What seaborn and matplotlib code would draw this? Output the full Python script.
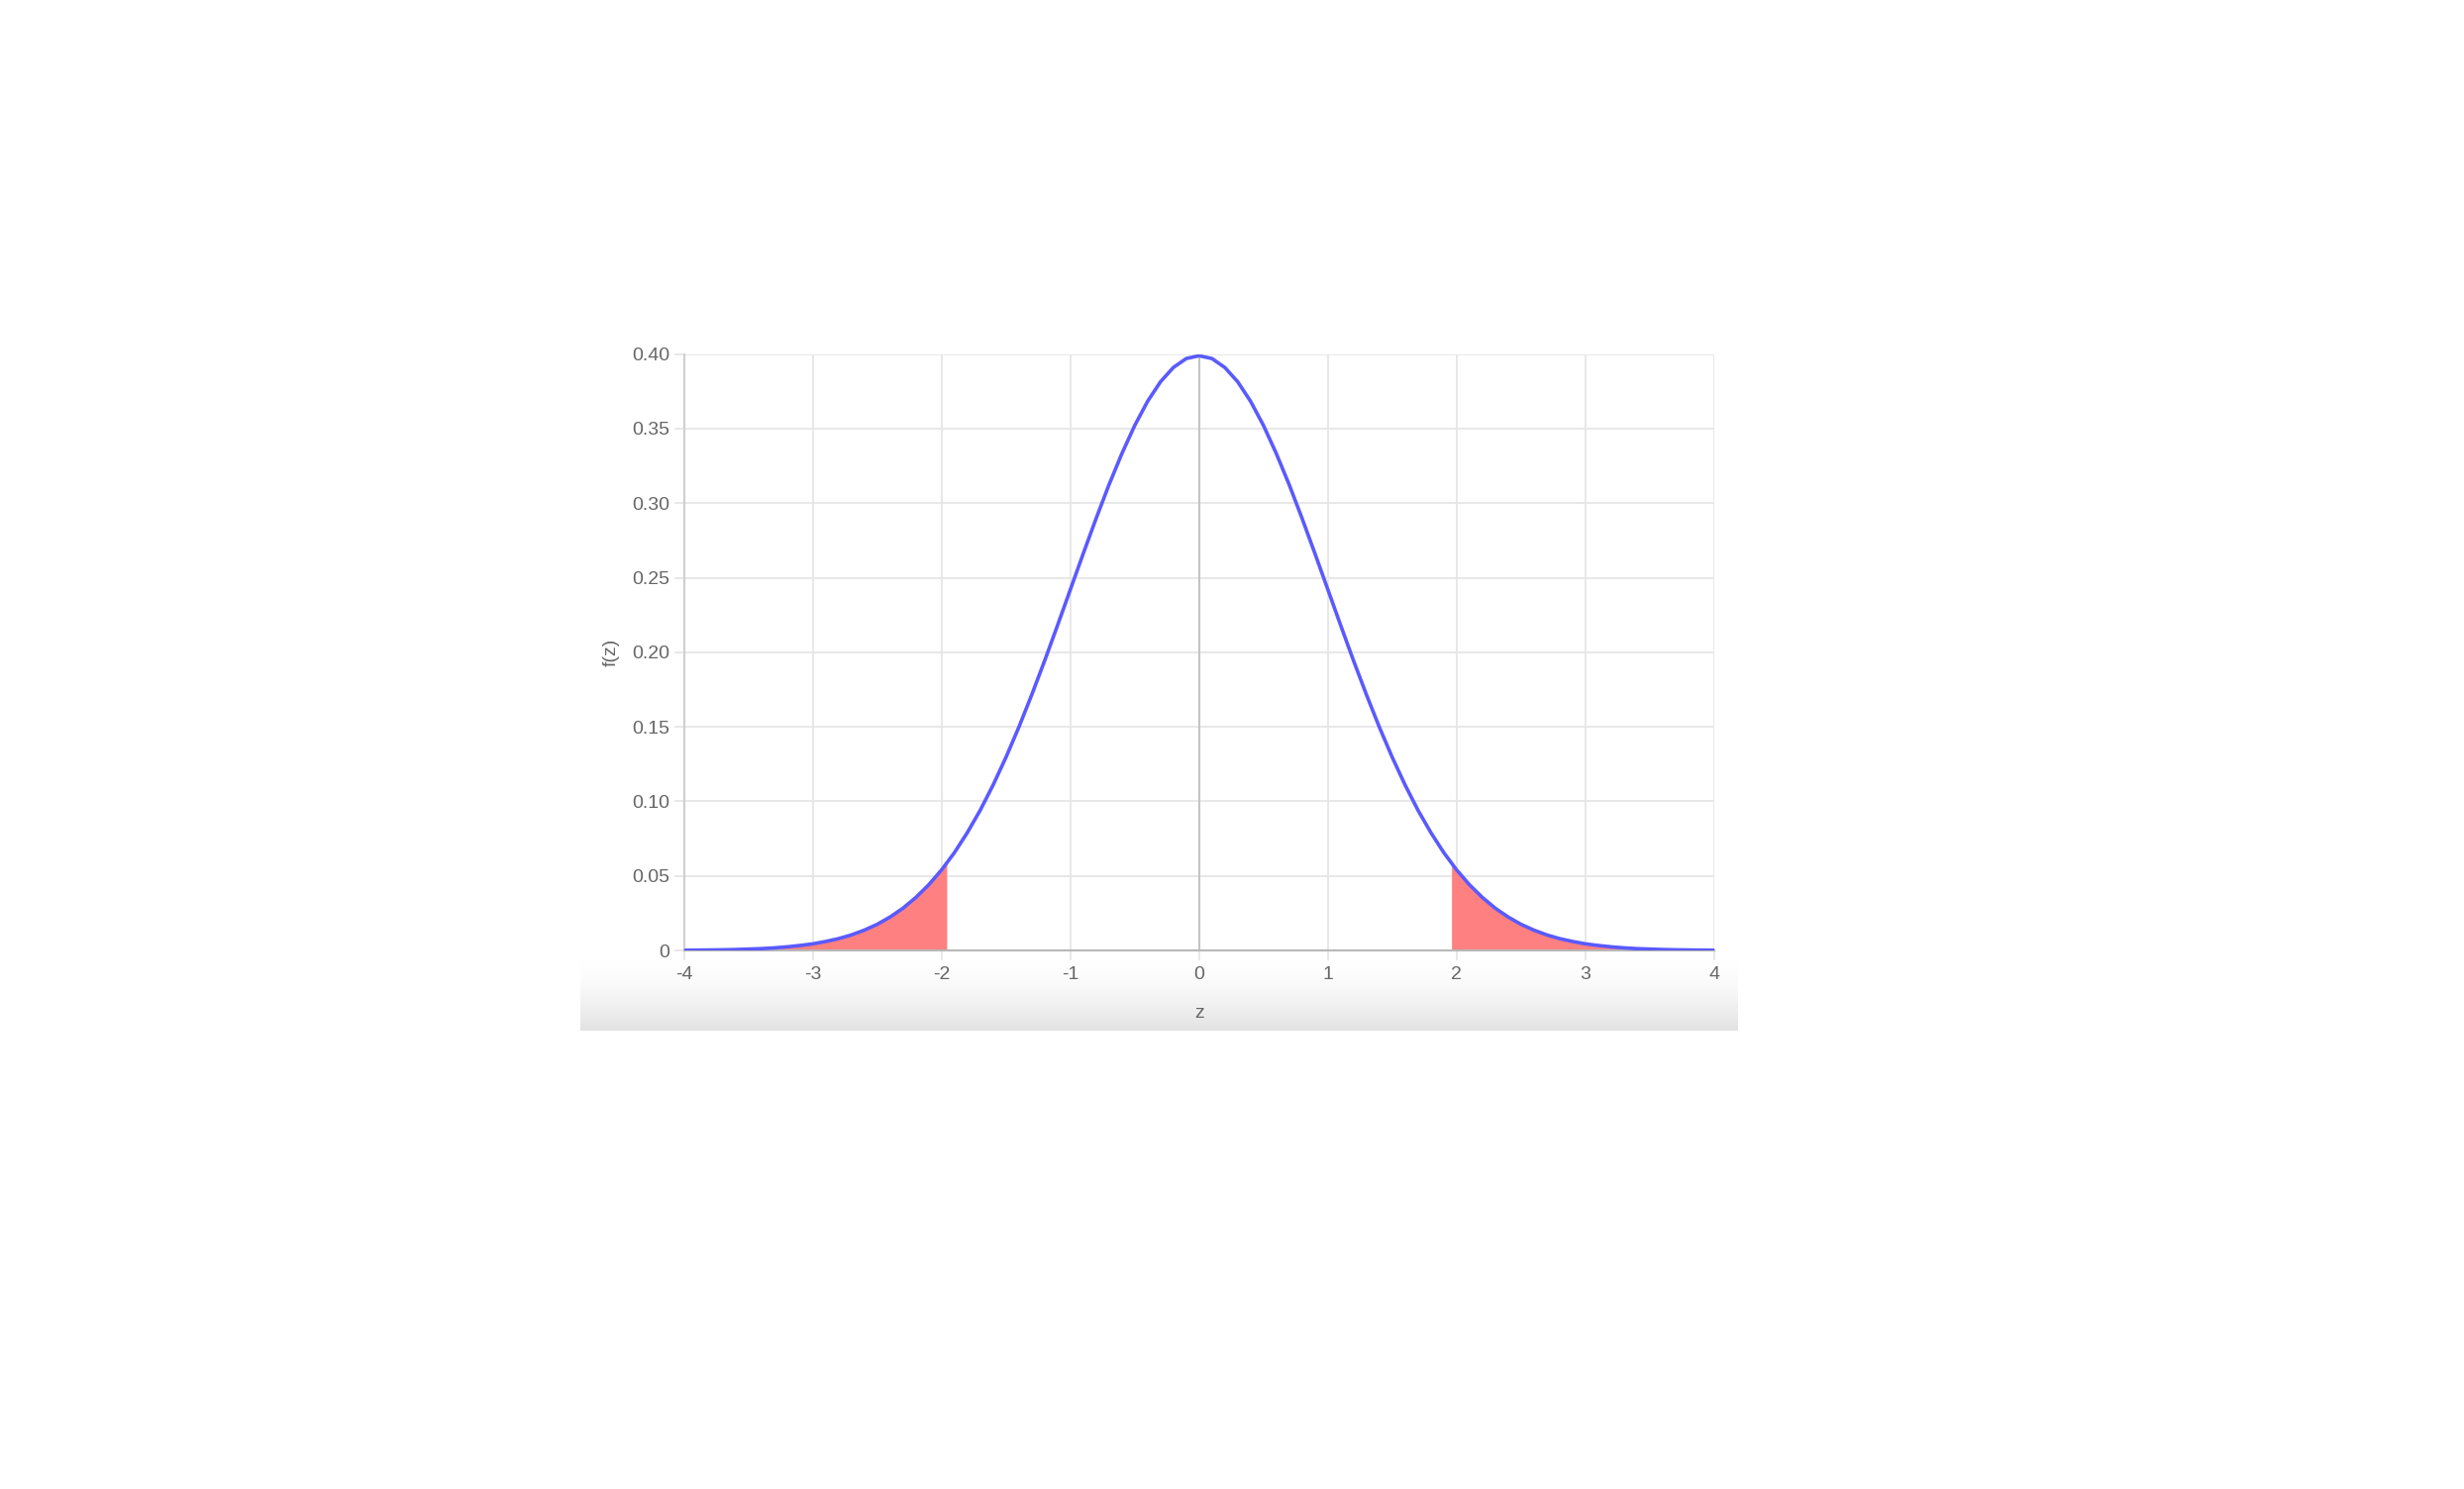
import numpy as np
import pandas as pd
import matplotlib
matplotlib.use("Agg")
import matplotlib.pyplot as plt
import seaborn as sns

# =============================
# Data read off the chart (standard normal curve, sampled every 0.1)
# =============================
z_values = np.round(np.linspace(-4, 4, 81), 1)
density = [
    0.0001, 0.0002, 0.0003, 0.0004, 0.0006, 0.0009, 0.0012, 0.0017, 0.0024, 0.0033,
    0.0044, 0.0060, 0.0079, 0.0104, 0.0136, 0.0175, 0.0224, 0.0283, 0.0355, 0.0440,
    0.0540, 0.0656, 0.0790, 0.0940, 0.1109, 0.1295, 0.1497, 0.1714, 0.1942, 0.2179,
    0.2420, 0.2661, 0.2897, 0.3123, 0.3332, 0.3521, 0.3683, 0.3814, 0.3910, 0.3970,
    0.3989,
    0.3970, 0.3910, 0.3814, 0.3683, 0.3521, 0.3332, 0.3123, 0.2897, 0.2661, 0.2420,
    0.2179, 0.1942, 0.1714, 0.1497, 0.1295, 0.1109, 0.0940, 0.0790, 0.0656, 0.0540,
    0.0440, 0.0355, 0.0283, 0.0224, 0.0175, 0.0136, 0.0104, 0.0079, 0.0060, 0.0044,
    0.0033, 0.0024, 0.0017, 0.0012, 0.0009, 0.0006, 0.0004, 0.0003, 0.0002, 0.0001,
]
critical_z = 1.96
critical_density = 0.0584

x_ticks = [-4, -3, -2, -1, 0, 1, 2, 3, 4]
y_ticks = [0, 0.05, 0.10, 0.15, 0.20, 0.25, 0.30, 0.35, 0.40]
y_tick_labels = ["0", "0.05", "0.10", "0.15", "0.20", "0.25", "0.30", "0.35", "0.40"]

df = pd.DataFrame({"z": z_values, "f": density})

# tails: curve points beyond the cut plus the cut point itself
left = df[df["z"] <= -critical_z]
left = pd.concat([left, pd.DataFrame({"z": [-critical_z], "f": [critical_density]})])
right = df[df["z"] >= critical_z]
right = pd.concat([pd.DataFrame({"z": [critical_z], "f": [critical_density]}), right])

# =============================
# Plot
# =============================
sns.set_theme(style="white")
plt.rcParams["font.family"] = ["Liberation Sans", "DejaVu Sans"]

fig = plt.figure(figsize=(24.88, 15.04), dpi=100)
fig.patch.set_facecolor("white")

# grey gradient band under the chart
bg = fig.add_axes([586 / 2488, 1 - 1041 / 1504, (1755 - 586) / 2488, (1041 - 968) / 1504])
grad = np.linspace(0, 1, 200) ** 1.6
bg.imshow(grad[:, None], aspect="auto", cmap=matplotlib.colors.LinearSegmentedColormap.from_list(
    "g", ["#ffffff", "#e2e2e2"]), vmin=0, vmax=1, extent=[0, 1, 0, 1], origin="upper")
bg.set_axis_off()

ax = fig.add_axes([0.2776, 0.3617, 0.4181, 0.4005])
ax.set_facecolor("none")

ax.fill_between(left["z"], 0, left["f"], color="#ff8080", lw=0, zorder=2)
ax.fill_between(right["z"], 0, right["f"], color="#ff8080", lw=0, zorder=2)
sns.lineplot(data=df, x="z", y="f", ax=ax, color="#5a5aff", linewidth=2.6, zorder=3)

ax.set_xlim(-4, 4)
ax.set_ylim(0, 0.40)
ax.set_xticks(x_ticks)
ax.set_xticklabels([str(t) for t in x_ticks])
ax.set_yticks(y_ticks)
ax.set_yticklabels(y_tick_labels)

ax.grid(True, color="#e6e6e6", linewidth=1.3, zorder=0)
ax.set_axisbelow(True)
ax.axvline(0, color="#c4c4c4", linewidth=1.5, zorder=1)
for side in ["top", "right"]:
    ax.spines[side].set_visible(False)
ax.spines["left"].set_color("#cfcfcf")
ax.spines["bottom"].set_color("#b8b8b8")
ax.spines["left"].set_linewidth(1.5)
ax.spines["bottom"].set_linewidth(1.5)

ax.tick_params(axis="both", length=7, width=1.3, color="#e6e6e6", labelcolor="#666666",
               labelsize=14, bottom=True, left=True)
ax.tick_params(axis="x", pad=4.3)
ax.tick_params(axis="y", pad=3.6)

ax.set_xlabel("z", fontsize=14, color="#666666", labelpad=16)
ax.set_ylabel("f(z)", fontsize=14, color="#666666", labelpad=9)

plt.savefig("out.png", dpi=100)
plt.close()
